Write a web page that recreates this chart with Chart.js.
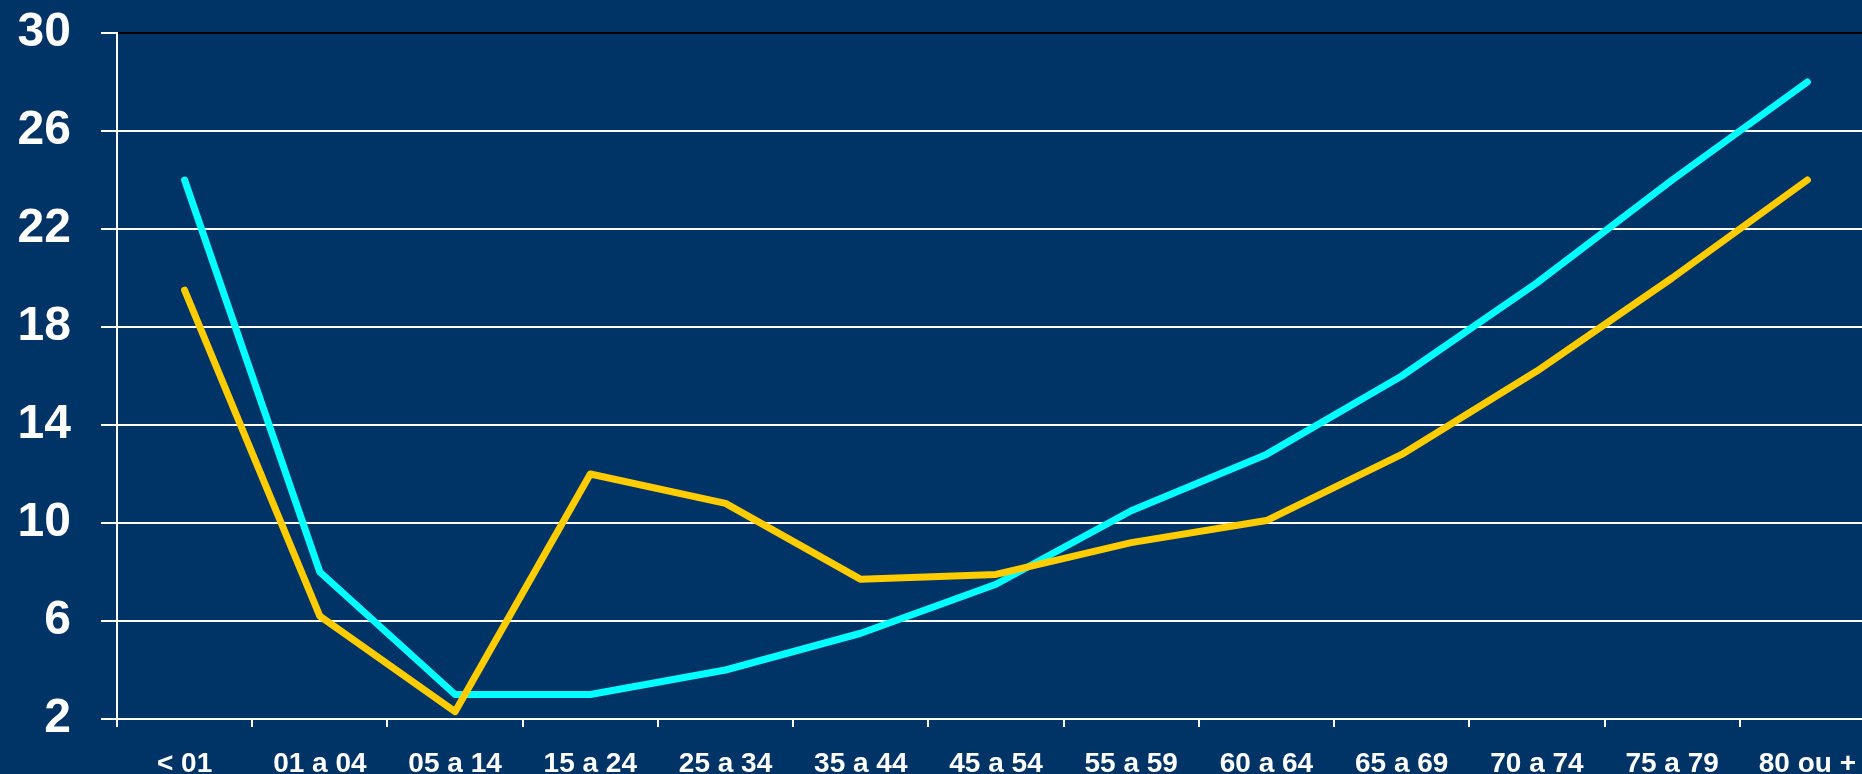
<!DOCTYPE html>
<html>
<head>
<meta charset="utf-8">
<script src="https://cdn.jsdelivr.net/npm/chart.js@4/dist/chart.umd.min.js"></script>
<style>
  html, body { margin: 0; padding: 0; background: #003366; overflow: hidden; }
  #wrap { position: relative; width: 1875px; height: 774px; }
</style>
</head>
<body>
<div id="wrap"><canvas id="c"></canvas></div>
<script>
const categories = ["< 01", "01 a 04", "05 a 14", "15 a 24", "25 a 34", "35 a 44", "45 a 54", "55 a 59", "60 a 64", "65 a 69", "70 a 74", "75 a 79", "80 ou +"];
const cyanSeries = [24, 8, 3, 3, 4, 5.5, 7.5, 10.5, 12.8, 16, 19.8, 24, 28];
const goldSeries = [19.5, 6.2, 2.3, 12, 10.8, 7.7, 7.9, 9.2, 10.1, 12.8, 16.2, 20, 24];
const yMin = 2, yMax = 30, yStep = 4;

const FONT = '"Liberation Sans", Arial, Helvetica, sans-serif';

new Chart(document.getElementById('c'), {
  type: 'line',
  data: {
    labels: categories,
    datasets: [
      {
        data: goldSeries,
        borderColor: '#FFCC00',
        borderWidth: 7,
        pointRadius: 0,
        tension: 0,
        borderCapStyle: 'round',
        borderJoinStyle: 'round',
        fill: false
      },
      {
        data: cyanSeries,
        borderColor: '#00FFFF',
        borderWidth: 7,
        pointRadius: 0,
        tension: 0,
        borderCapStyle: 'round',
        borderJoinStyle: 'round',
        fill: false
      }
    ]
  },
  options: {
    responsive: true,
    maintainAspectRatio: false,
    animation: false,
    layout: { padding: { top: 33, left: 0, right: 0, bottom: 0 } },
    plugins: { legend: { display: false }, tooltip: { enabled: false } },
    scales: {
      x: {
        offset: true,
        grid: {
          display: true,
          offset: true,
          drawOnChartArea: false,
          drawTicks: true,
          tickLength: 8,
          tickColor: '#FFFFFF',
          tickWidth: 2,
          lineWidth: 2,
          color: '#FFFFFF'
        },
        border: { display: true, color: '#FFFFFF', width: 2 },
        ticks: {
          color: '#FFFFFF',
          font: { family: FONT, size: 28, weight: 'bold' },
          padding: 20,
          maxRotation: 0,
          autoSkip: false
        },
        afterFit: (s) => { s.height = 55; s.paddingLeft = 0; s.paddingRight = 0; }
      },
      y: {
        min: yMin,
        max: yMax,
        grid: {
          color: (ctx) => (ctx.tick && ctx.tick.value === yMax ? '#000000' : '#FFFFFF'),
          lineWidth: 2,
          tickLength: 16,
          tickColor: '#FFFFFF',
          tickWidth: 2
        },
        border: { display: true, color: '#FFFFFF', width: 2 },
        ticks: {
          stepSize: yStep,
          color: '#FFFFFF',
          font: { family: FONT, size: 48, weight: 'bold' },
          padding: 30
        },
        afterFit: (s) => { s.width = 117; s.paddingTop = 0; s.paddingBottom = 0; }
      }
    }
  }
});
</script>
</body>
</html>
